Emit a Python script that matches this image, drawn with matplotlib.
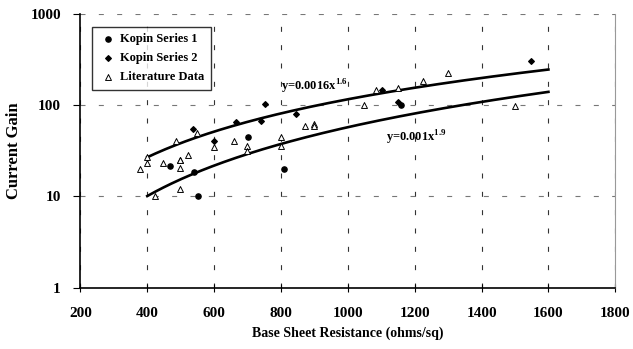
import numpy as np
import matplotlib.pyplot as plt

plt.rcParams['font.family'] = ['Liberation Serif', 'DejaVu Serif']
plt.rcParams['font.weight'] = 'bold'
plt.rcParams['mathtext.fontset'] = 'custom'
plt.rcParams['mathtext.bf'] = 'Liberation Serif:bold'

# Kopin Series 1 (filled circles)
k1_x = [467, 539, 553, 702, 809, 1160]
k1_y = [21.4, 18.4, 10, 45, 20, 100]

# Kopin Series 2 (filled diamonds)
k2_x = [537, 599, 665, 739, 752, 844, 1101, 1149, 1548]
k2_y = [55, 40.6, 65, 68, 103, 81, 149, 110, 310]

# Literature data (open triangles)
lit_x = [378, 398, 399, 422, 448, 486, 499, 499, 499, 499, 523, 548, 599,
         659, 699, 699, 799, 799, 871, 899, 899, 1049, 1084, 1149, 1224,
         1299, 1500]
lit_y = [20, 23.3, 27, 10, 23.3, 40.6, 25.3, 20.3, 12, 24.9, 28.5, 50, 34.9,
         40.6, 35.4, 31.3, 45.5, 35.4, 60, 63, 60, 100, 146, 155, 185,
         227, 99]

# power-law trend lines y = a * x^b, as drawn
fit_upper = (0.00185, 1.6)
fit_lower = (0.000115, 1.9)
fit_range = (400, 1600)

fig, ax = plt.subplots(figsize=(6.33, 3.49), dpi=100)
fig.subplots_adjust(left=0.127, right=0.972, top=0.959, bottom=0.176)

ax.set_yscale('log')
ax.set_xlim(200, 1800)
ax.set_ylim(1, 1000)

xf = np.linspace(fit_range[0], fit_range[1], 200)
ax.plot(xf, fit_upper[0] * xf ** fit_upper[1], color='black', lw=1.9)
ax.plot(xf, fit_lower[0] * xf ** fit_lower[1], color='black', lw=1.9)

ax.scatter(k1_x, k1_y, marker='o', s=14, color='black', zorder=3,
           label='Kopin Series 1')
ax.scatter(k2_x, k2_y, marker='D', s=8, color='black', zorder=3,
           label='Kopin Series 2')
ax.scatter(lit_x, lit_y, marker='^', s=18, facecolor='white',
           edgecolor='black', linewidth=0.7, zorder=3, label='Literature Data')

ax.text(800, 146, r'y=0.0016x$^{\mathbf{1.6}}$', fontsize=9, fontweight='bold')
ax.text(1115, 40, r'y=0.001x$^{\mathbf{1.9}}$', fontsize=9, fontweight='bold')

ax.set_xticks(range(200, 1801, 200))
ax.set_yticks([1, 10, 100, 1000])
ax.set_yticklabels(['1', '10', '100', '1000'])
ax.minorticks_off()
ax.tick_params(axis='x', direction='inout', length=6, labelsize=11, pad=11)
ax.tick_params(axis='y', direction='out', length=5, labelsize=11, pad=9)
for lab in ax.get_xticklabels() + ax.get_yticklabels():
    lab.set_fontweight('bold')

ax.xaxis.grid(True, color='#333333', linestyle=(0, (4.5, 12)), lw=0.8)
ax.yaxis.grid(True, color='#777777', linestyle=(0, (4.5, 12)), lw=0.8)
ax.spines['top'].set_visible(False)
ax.spines['right'].set_color('#999999')
ax.spines['left'].set_linewidth(1.2)
ax.spines['bottom'].set_linewidth(1.2)

ax.set_xlabel('Base Sheet Resistance (ohms/sq)', fontsize=10, fontweight='bold',
              labelpad=5)
ax.set_ylabel('Current Gain', fontsize=12, fontweight='bold', labelpad=6)

leg = ax.legend(loc='upper left', bbox_to_anchor=(0.022, 0.955),
                borderaxespad=0, frameon=True, fancybox=False,
                edgecolor='black', handletextpad=0.3, borderpad=0.55,
                labelspacing=0.55, handlelength=1.4,
                prop={'weight': 'bold', 'size': 9})
leg.get_frame().set_linewidth(1.0)

fig.savefig('out.png', dpi=100)
